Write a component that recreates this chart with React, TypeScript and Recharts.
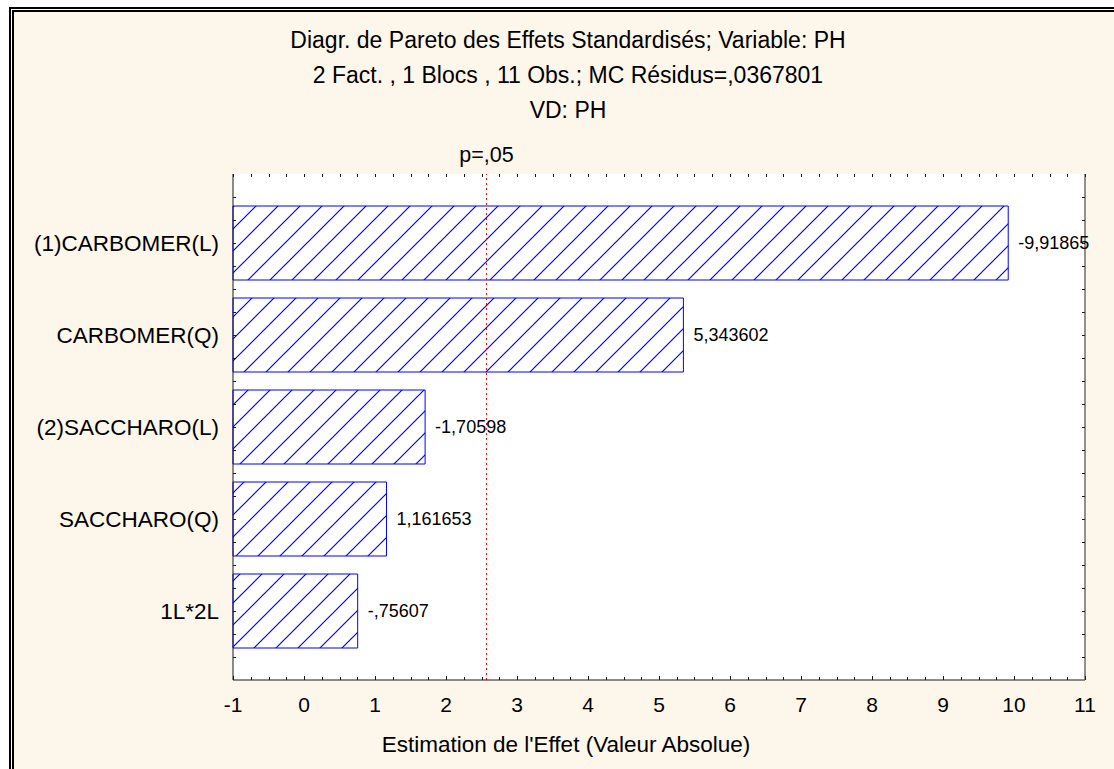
import React from "react";
import {
  BarChart,
  Bar,
  XAxis,
  YAxis,
  ReferenceLine,
  LabelList,
} from "recharts";

// Pareto of standardized effects, response PH
const factors = ["(1)CARBOMER(L)", "CARBOMER(Q)", "(2)SACCHARO(L)", "SACCHARO(Q)", "1L*2L"];
const effects = [-9.91865, 5.343602, -1.70598, 1.161653, -0.75607];
const effectLabels = ["-9,91865", "5,343602", "-1,70598", "1,161653", "-,75607"];
const xMajorTicks = [-1, 0, 1, 2, 3, 4, 5, 6, 7, 8, 9, 10, 11];
const pCritical = 2.5706;
const titleLines = [
  "Diagr. de Pareto des Effets Standardisés; Variable: PH",
  "2 Fact. , 1 Blocs , 11 Obs.; MC Résidus=,0367801",
  "VD: PH",
];
const xTitle = "Estimation de l'Effet (Valeur Absolue)";

const FONT = "'Liberation Sans', Arial, sans-serif";
const AXIS_DARK = "#1a1a1a";
const AXIS_GREY = "#6e6e6e";
const CREAM = "#FDF6EB";
const BLUE = "#0000FF";

const W = 1114;
const H = 769;
const PLOT = { left: 233, right: 1085, top: 174, bottom: 680 };
const QUARTER = (PLOT.bottom - PLOT.top) / 22; // quarter of a category band

const xMin = xMajorTicks[0];
const xMax = xMajorTicks[xMajorTicks.length - 1];

// quarter-unit tick marks between the labelled integers
const xAllTicks: number[] = [];
xMajorTicks.forEach((t, i) => {
  xAllTicks.push(t);
  if (i < xMajorTicks.length - 1) xAllTicks.push(t + 0.25, t + 0.5, t + 0.75);
});

const data = factors.map((name, i) => ({
  name,
  range: [xMin, Math.abs(effects[i])],
  label: effectLabels[i],
}));

// bottom tick: inward mark on bottom and top frame, label on integers
const BottomTick = (props: any) => {
  const { x, y, payload } = props;
  const v = payload.value;
  const major = Number.isInteger(v);
  const px = Math.round(x) + 0.5;
  return (
    <g>
      <line x1={px} x2={px} y1={y} y2={y - (major ? 4 : 3)} stroke={AXIS_DARK} />
      <line x1={px} x2={px} y1={PLOT.top} y2={PLOT.top + 3} stroke={AXIS_DARK} />
      {major && (
        <text x={x} y={y + 32} textAnchor="middle" fontSize={21} fontFamily={FONT} fill="#000">
          {String(v)}
        </text>
      )}
    </g>
  );
};

// factor label plus the quarter-band marks on the left and right frame
const FactorTick = (props: any) => {
  const { x, y, payload, index } = props;
  const offs = [-2, -1, 0, 1];
  if (index === factors.length - 1) offs.push(2);
  return (
    <g>
      {offs.map((k) => {
        const py = Math.round(y + k * QUARTER) + 0.5;
        return (
          <g key={k}>
            <line x1={PLOT.left} x2={PLOT.left + 3} y1={py} y2={py} stroke={AXIS_DARK} />
            <line x1={PLOT.right - 3} x2={PLOT.right} y1={py} y2={py} stroke={AXIS_DARK} />
          </g>
        );
      })}
      <text x={x} y={y} dy={8} textAnchor="end" fontSize={22.5} fontFamily={FONT} fill="#000">
        {payload.value}
      </text>
    </g>
  );
};

export default function App() {
  return (
    <div style={{ position: "absolute", left: 0, top: 0, width: W, height: H, overflow: "hidden", background: "#fff" }}>
      <div
        style={{
          position: "absolute",
          left: 9,
          top: 7,
          width: 1200,
          height: 800,
          borderTop: "2px solid #000",
          borderLeft: "2px solid #000",
          background: "#fff",
        }}
      />
      <div
        style={{
          position: "absolute",
          left: 12,
          top: 10,
          width: 1200,
          height: 800,
          borderTop: "2px solid #000",
          borderLeft: "2px solid #000",
          background: CREAM,
        }}
      />
      {/* white plot background */}
      <div
        style={{
          position: "absolute",
          left: PLOT.left,
          top: PLOT.top,
          width: PLOT.right - PLOT.left,
          height: PLOT.bottom - PLOT.top,
          background: "#fff",
        }}
      />
      <div style={{ position: "absolute", left: 0, top: 0 }}>
        <BarChart
          width={W}
          height={H}
          layout="vertical"
          data={data}
          margin={{ top: PLOT.top, right: W - PLOT.right - 1, bottom: 0, left: 0 }}
        >
          <defs>
            <pattern id="hatch" patternUnits="userSpaceOnUse" width={22} height={22}>
              <rect width={22} height={22} fill="#fff" />
              <path d="M0,22 L22,0 M-11,11 L11,-11 M11,33 L33,11" stroke={BLUE} strokeWidth={1.2} />
            </pattern>
          </defs>
          <XAxis
            type="number"
            domain={[xMin, xMax]}
            ticks={xAllTicks}
            interval={0}
            height={H - PLOT.bottom}
            tickSize={0}
            tickMargin={0}
            tickLine={false}
            axisLine={{ stroke: AXIS_DARK }}
            tick={<BottomTick />}
          />
          <YAxis
            type="number"
            domain={[0, 22]}
            width={1}
            tick={false}
            tickLine={false}
            axisLine={{ stroke: AXIS_DARK }}
          />
          <YAxis
            yAxisId="cat"
            type="category"
            dataKey="name"
            width={PLOT.left - 1}
            padding={{ top: QUARTER, bottom: QUARTER }}
            tickSize={0}
            tickMargin={13}
            tickLine={false}
            axisLine={false}
            interval={0}
            tick={<FactorTick />}
          />
          <YAxis
            yAxisId="gr"
            orientation="right"
            type="number"
            domain={[0, 22]}
            width={1}
            tick={false}
            tickLine={false}
            axisLine={{ stroke: AXIS_GREY, strokeWidth: 1.5 }}
          />
          <Bar
            yAxisId="cat"
            dataKey="range"
            barSize={74}
            fill="url(#hatch)"
            stroke={BLUE}
            strokeWidth={1}
            isAnimationActive={false}
          >
            <LabelList
              dataKey="label"
              position="right"
              offset={10}
              fontSize={18}
              fontFamily={FONT}
              fill="#000"
            />
          </Bar>
          <ReferenceLine y={22} stroke={AXIS_GREY} strokeWidth={1.5} />
          <ReferenceLine
            x={pCritical}
            stroke="#FF0000"
            strokeWidth={1}
            strokeDasharray="2 3"
            label={{ value: "p=,05", position: "top", offset: 12, fontSize: 21.5, fontFamily: FONT, fill: "#000" }}
          />
        </BarChart>
      </div>
      <svg width={W} height={H} style={{ position: "absolute", left: 0, top: 0, pointerEvents: "none" }}>
        {titleLines.map((t, i) => (
          <text key={t} x={568} y={48 + i * 35} textAnchor="middle" fontSize={23} fontFamily={FONT} fill="#000">
            {t}
          </text>
        ))}
        <text x={566} y={752} textAnchor="middle" fontSize={22.5} fontFamily={FONT} fill="#000">
          {xTitle}
        </text>
      </svg>
    </div>
  );
}
